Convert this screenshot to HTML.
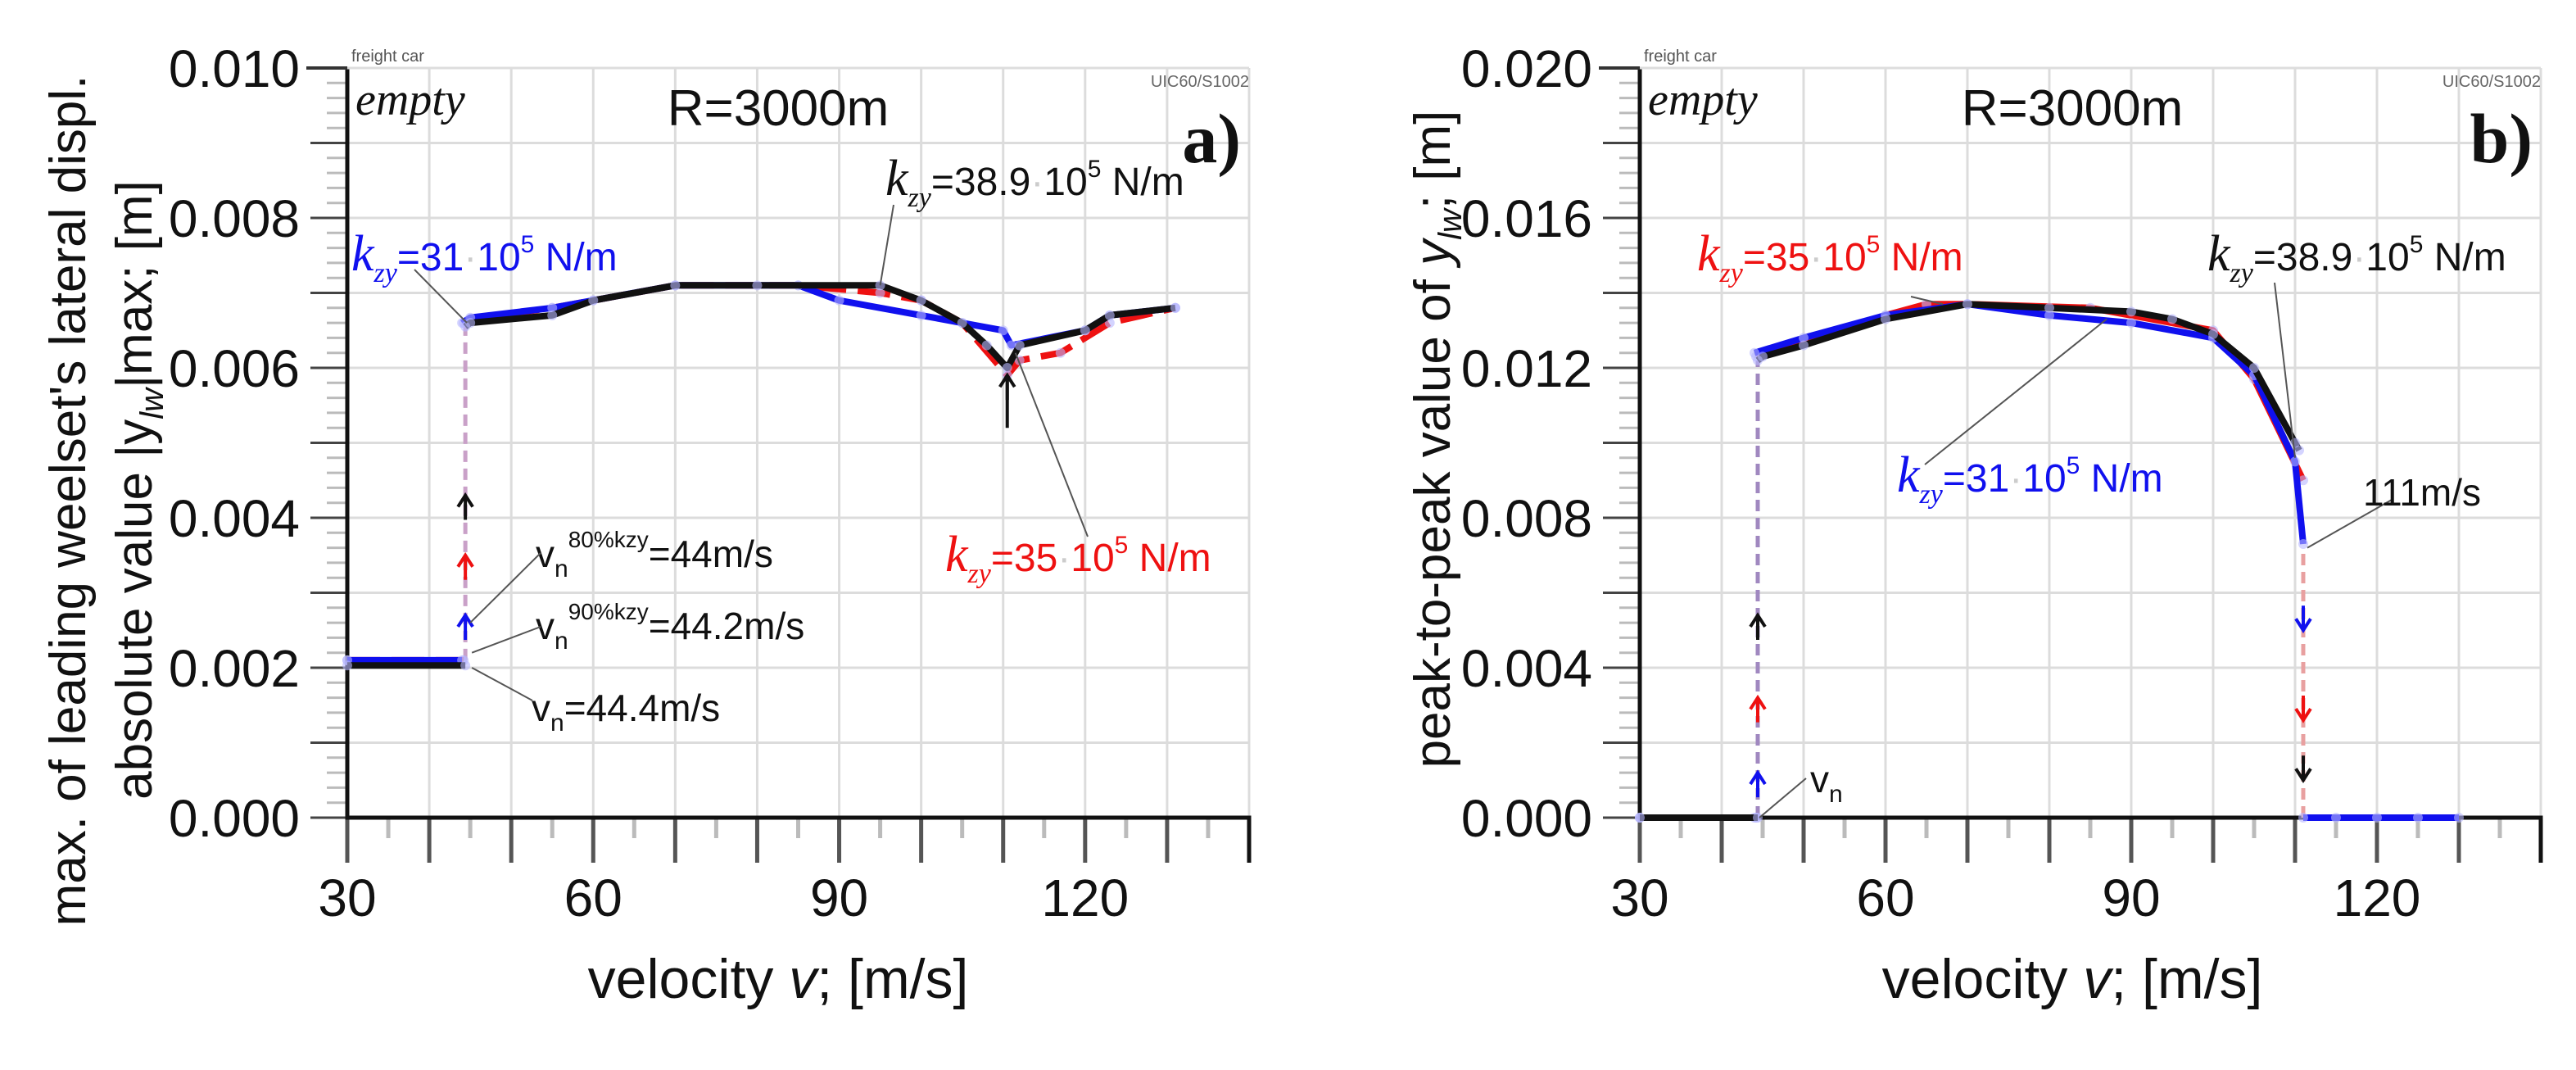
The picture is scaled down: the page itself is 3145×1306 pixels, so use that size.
<!DOCTYPE html>
<html><head><meta charset="utf-8"><style>
html,body{margin:0;padding:0;background:#fff}
svg{display:block}
text{font-family:"Liberation Sans",sans-serif}
.serif{font-family:"Liberation Serif",serif}
</style></head><body>
<svg id="chart" width="3145" height="1306" viewBox="0 0 3145 1306" xmlns="http://www.w3.org/2000/svg">
<g id="pa"></g>
<g id="pb"></g>
</svg>
<script>
// ---- data: panel a (max lateral displacement) ----
const aBlackV = [30, 44.4, 44.4, 45, 55, 60, 70, 80, 95, 100, 105, 108, 110.5, 112, 120, 123, 131];
const aBlackY = [0.00203, 0.00203, 0.00655, 0.0066, 0.0067, 0.0069, 0.0071, 0.0071, 0.0071, 0.0069, 0.0066, 0.0063, 0.0060, 0.0063, 0.0065, 0.0067, 0.0068];
const aRedV = [30, 44.2, 44.2, 45, 55, 60, 70, 85, 95, 100, 105, 110.5, 112, 117, 123, 131];
const aRedY = [0.0021, 0.0021, 0.0066, 0.00665, 0.0068, 0.0069, 0.0071, 0.0071, 0.0070, 0.0069, 0.0066, 0.0059, 0.0061, 0.0062, 0.0066, 0.0068];
const aBlueV = [30, 44, 44, 45, 55, 70, 85, 90, 100, 110, 111, 120, 123, 131];
const aBlueY = [0.0021, 0.0021, 0.0066, 0.00667, 0.0068, 0.0071, 0.0071, 0.0069, 0.0067, 0.0065, 0.0063, 0.0065, 0.0067, 0.0068];
// ---- data: panel b (peak-to-peak) ----
const bBlackV = [30, 44.4, 44.4, 45, 50, 60, 70, 80, 90, 95, 100, 105, 110, 110.5];
const bBlackY = [0, 0, 0.0122, 0.0123, 0.0126, 0.0133, 0.0137, 0.0136, 0.0135, 0.0133, 0.0129, 0.0120, 0.0100, 0.0098];
const bRedV = [30, 44.2, 44.2, 45, 60, 65, 70, 85, 100, 105, 111];
const bRedY = [0, 0, 0.0123, 0.0124, 0.0134, 0.0137, 0.0137, 0.0136, 0.0130, 0.0117, 0.0090];
const bBlueV = [30, 44, 44, 50, 60, 70, 80, 90, 100, 105, 110, 111];
const bBlueY = [0, 0, 0.0124, 0.0128, 0.0134, 0.0137, 0.0134, 0.0132, 0.0128, 0.0118, 0.0095, 0.0073];
const bTailV = [111, 115, 120, 125, 130];
const bTailY = [0, 0, 0, 0, 0];
// ticks
const xTicks = [30, 60, 90, 120];
const aYTicks = [0, 0.002, 0.004, 0.006, 0.008, 0.010];
const aYTickLabels = ["0.000","0.002","0.004","0.006","0.008","0.010"];
const bYTicks = [0, 0.004, 0.008, 0.012, 0.016, 0.020];
const bYTickLabels = ["0.000","0.004","0.008","0.012","0.016","0.020"];

const NS = "http://www.w3.org/2000/svg";
function mk(parent, tag, attrs, txt) {
  const e = document.createElementNS(NS, tag);
  for (const k in attrs) e.setAttribute(k, attrs[k]);
  if (txt !== undefined) e.textContent = txt;
  parent.appendChild(e);
  return e;
}
function axes(L, R, T, B, x0, x1, y1) {
  return {
    x: v => L + (v - x0) / (x1 - x0) * (R - L),
    y: v => B - v / y1 * (B - T)
  };
}
function drawPanel(g, L, R, T, B, yMax, yStep, yTicks, yLabels) {
  const ax = axes(L, R, T, B, 30, 140, yMax);
  for (let v = 40; v <= 140; v += 10) {
    const l = mk(g, "line", {x1: ax.x(v), x2: ax.x(v), y1: T, y2: B, stroke: "#dcdcdc", "stroke-width": 3});
    
    
  }
  for (let v = yStep; v <= yMax + 1e-9; v += yStep) {
    const l = mk(g, "line", {x1: L, x2: R, y1: ax.y(v), y2: ax.y(v), stroke: "#dcdcdc", "stroke-width": 3});
    
    
  }
  for (let i = 0; i <= 50; i++) {
    const v = yMax * i / 50;
    const len = (i % 5 === 0) ? 45 : 25;
    mk(g, "line", {x1: L - len, x2: L, y1: ax.y(v), y2: ax.y(v), stroke: i % 5 === 0 ? "#444" : "#bbb", "stroke-width": 3});
  }
  for (let v = 30; v <= 140; v += 5) {
    const big = v % 10 === 0;
    mk(g, "line", {x1: ax.x(v), x2: ax.x(v), y1: B, y2: B + (big ? 55 : 25), stroke: big ? "#555" : "#bbb", "stroke-width": 5});
  }
  const axl = mk(g, "path", {d: `M${L},${T} V${B} H${R} V${B+55}`, fill: "none", stroke: "#111", "stroke-width": 5});
  
  
  mk(g, "line", {x1: L - 50, x2: R, y1: T, y2: T, stroke: "#ddd", "stroke-width": 3});
  mk(g, "line", {x1: L - 50, x2: L, y1: T, y2: T, stroke: "#333", "stroke-width": 4});
  yTicks.forEach((v, i) => {
    const t = mk(g, "text", {x: L - 58, y: ax.y(v) + 23, "font-size": 64, "text-anchor": "end", fill: "#111"}, yLabels[i]);
    
    
  });
  xTicks.forEach(v => {
    const t = mk(g, "text", {x: ax.x(v), y: 1118, "font-size": 64, "text-anchor": "middle", fill: "#111"}, String(v));
    
    
  });
  return ax;
}
// vertical jumps (equal consecutive x) are not drawn solid: they become a move
function series(g, ax, xs, ys, color, name, dashed, lowWidth) {
  let d = "";
  xs.forEach((v, i) => {
    const jump = i > 0 && xs[i - 1] === v;
    d += (i === 0 || jump ? "M" : "L") + ax.x(v).toFixed(1) + "," + ax.y(ys[i]).toFixed(1) + " ";
  });
  const p = mk(g, "path", {d: d, fill: "none", stroke: color, "stroke-width": 8, "stroke-linejoin": "round"});
  if (dashed) p.setAttribute("stroke-dasharray", "40 14");
  
  
  xs.forEach((v, i) => {
    const c = mk(g, "circle", {cx: ax.x(v), cy: ax.y(ys[i]), r: 6, fill: "#b8b8ff", opacity: 0.6});
    
    
  });
}
function arrowHead(g, x, y, up, color) {
  const s = up ? 1 : -1;
  mk(g, "path", {d: `M${x-9},${y+14*s} L${x},${y} L${x+9},${y+14*s} M${x},${y} V${y+30*s}`, fill: "none", stroke: color, "stroke-width": 4});
}
function leader(g, x1, y1, x2, y2) {
  mk(g, "line", {x1: x1, y1: y1, x2: x2, y2: y2, stroke: "#555", "stroke-width": 2});
}
function kzy(g, x, y, color, val, name) {
  const t = mk(g, "text", {x: x, y: y, "font-size": 48, fill: color});
  
  
  mk(t, "tspan", {"font-family": "Liberation Serif, serif", "font-style": "italic", "font-size": 62}, "k");
  mk(t, "tspan", {"font-family": "Liberation Serif, serif", "font-style": "italic", "font-size": 34, dy: 14}, "zy");
  mk(t, "tspan", {dy: -14}, "=" + val);
  mk(t, "tspan", {fill: "#ccc"}, "·");
  mk(t, "tspan", {}, "10");
  mk(t, "tspan", {"font-size": 30, dy: -22}, "5");
  mk(t, "tspan", {dy: 22}, " N/m");
}
function common(g, L, R, lbl, cx) {
  let t = mk(g, "text", {x: L + 5, y: 75, "font-size": 20, fill: "#555"}, "freight car");
   
  t = mk(g, "text", {x: R, y: 106, "font-size": 20, "text-anchor": "end", fill: "#666"}, "UIC60/S1002");
   
  t = mk(g, "text", {x: L + 10, y: 140, "font-size": 56, "font-style": "italic", "class": "serif", fill: "#111"}, "empty");
   
  t = mk(g, "text", {x: cx, y: 153, "font-size": 62, "text-anchor": "middle", fill: "#111"}, "R=3000m");
   
  t = mk(g, "text", {x: R - 10, y: 198, "font-size": 86, "font-weight": "bold", "text-anchor": "end", "class": "serif", fill: "#111"}, lbl);
   
  t = mk(g, "text", {x: cx, y: 1218, "font-size": 68, "text-anchor": "middle", fill: "#111"});
   
  mk(t, "tspan", {}, "velocity ");
  mk(t, "tspan", {"font-style": "italic"}, "v");
  mk(t, "tspan", {}, "; [m/s]");
}

// ---------- Panel A ----------
const ga = document.getElementById("pa");
const A = drawPanel(ga, 424, 1525, 83, 998, 0.010, 0.001, aYTicks, aYTickLabels);
common(ga, 424, 1525, "a)", 950);
let ta = mk(ga, "text", {transform: "translate(104,611) rotate(-90)", "font-size": 62, "text-anchor": "middle", fill: "#111"}, "max. of leading weelset's lateral displ.");
 
ta = mk(ga, "text", {transform: "translate(185,598) rotate(-90)", "font-size": 62, "text-anchor": "middle", fill: "#111"});
 
mk(ta, "tspan", {}, "absolute value |y");
mk(ta, "tspan", {"font-size": 40, dy: 14, "font-style": "italic"}, "lw");
mk(ta, "tspan", {dy: -14}, "|max; [m]");
mk(ga, "line", {x1: A.x(44.4), x2: A.x(44.4), y1: A.y(0.0021), y2: A.y(0.0066), stroke: "#c9a0c8", "stroke-width": 5, "stroke-dasharray": "14 8"});
series(ga, A, aRedV, aRedY, "#ee1111", "series-kzy35", true);
series(ga, A, aBlueV, aBlueY, "#1010ee", "series-kzy31", false);
series(ga, A, aBlackV, aBlackY, "#111", "series-kzy38-9", false);
arrowHead(ga, A.x(44.4), A.y(0.0027), true, "#1010ee");
arrowHead(ga, A.x(44.4), A.y(0.0035), true, "#ee1111");
arrowHead(ga, A.x(44.4), A.y(0.0043), true, "#111");
arrowHead(ga, A.x(110.5), A.y(0.0059), true, "#111");
mk(ga, "line", {x1: A.x(110.5), x2: A.x(110.5), y1: A.y(0.0059), y2: A.y(0.0052), stroke: "#111", "stroke-width": 4});
kzy(ga, 429, 330, "#1010ee", "31", "label-kzy31");
kzy(ga, 1081, 238, "#111", "38.9", "label-kzy38-9");
kzy(ga, 1154, 697, "#ee1111", "35", "label-kzy35");
leader(ga, 506, 329, A.x(44.6), A.y(0.0066));
leader(ga, 1091, 250, A.x(95), A.y(0.0071));
leader(ga, 1328, 655, A.x(111.5), A.y(0.0062));
function vnLabel(g, x, y, sup, val, name) {
  const t = mk(g, "text", {x: x, y: y, "font-size": 46, fill: "#111"});
   
  mk(t, "tspan", {}, "v");
  mk(t, "tspan", {"font-size": 30, dy: 12}, "n");
  if (sup) { mk(t, "tspan", {"font-size": 28, dy: -36}, sup); mk(t, "tspan", {dy: 24}, val); }
  else mk(t, "tspan", {dy: -12}, val);
}
vnLabel(ga, 654, 692, "80%kzy", "=44m/s", "label-vn-80");
vnLabel(ga, 654, 780, "90%kzy", "=44.2m/s", "label-vn-90");
vnLabel(ga, 649, 880, null, "=44.4m/s", "label-vn");
leader(ga, 660, 675, A.x(44.4) + 6, A.y(0.0026));
leader(ga, 660, 765, A.x(44.4) + 8, A.y(0.0022));
leader(ga, 650, 855, A.x(44.4) + 8, A.y(0.0020));

// ---------- Panel B ----------
const gb = document.getElementById("pb");
const Bx = drawPanel(gb, 2002, 3102, 83, 998, 0.020, 0.002, bYTicks, bYTickLabels);
common(gb, 2002, 3102, "b)", 2530);
let tb = mk(gb, "text", {transform: "translate(1770,536) rotate(-90)", "font-size": 62, "text-anchor": "middle", fill: "#111"});
 
mk(tb, "tspan", {}, "peak-to-peak value of ");
mk(tb, "tspan", {"font-style": "italic"}, "y");
mk(tb, "tspan", {"font-size": 40, dy: 14, "font-style": "italic"}, "lw");
mk(tb, "tspan", {dy: -14}, "; [m]");
mk(gb, "line", {x1: Bx.x(44.4), x2: Bx.x(44.4), y1: Bx.y(0), y2: Bx.y(0.0122), stroke: "#a088c0", "stroke-width": 5, "stroke-dasharray": "14 8"});
mk(gb, "line", {x1: Bx.x(111), x2: Bx.x(111), y1: Bx.y(0), y2: Bx.y(0.0072), stroke: "#e8a0a0", "stroke-width": 5, "stroke-dasharray": "14 8"});
series(gb, Bx, bRedV, bRedY, "#ee1111", "series-kzy35", false);
series(gb, Bx, bBlueV, bBlueY, "#1010ee", "series-kzy31", false);
series(gb, Bx, bBlackV, bBlackY, "#111", "series-kzy38-9", false);
series(gb, Bx, bTailV, bTailY, "#1010ee", "series-zero-tail", false);
arrowHead(gb, Bx.x(44.4), Bx.y(0.0012), true, "#1010ee");
arrowHead(gb, Bx.x(44.4), Bx.y(0.0032), true, "#ee1111");
arrowHead(gb, Bx.x(44.4), Bx.y(0.0054), true, "#111");
arrowHead(gb, Bx.x(111), Bx.y(0.0050), false, "#1010ee");
arrowHead(gb, Bx.x(111), Bx.y(0.0026), false, "#ee1111");
arrowHead(gb, Bx.x(111), Bx.y(0.0010), false, "#111");
kzy(gb, 2072, 330, "#ee1111", "35", "label-kzy35");
kzy(gb, 2695, 330, "#111", "38.9", "label-kzy38-9");
kzy(gb, 2316, 600, "#1010ee", "31", "label-kzy31");
leader(gb, 2333, 362, Bx.x(67), Bx.y(0.0137));
leader(gb, 2350, 567, Bx.x(87), Bx.y(0.0133));
leader(gb, 2777, 345, Bx.x(110), Bx.y(0.0096));
leader(gb, 2920, 610, Bx.x(111.5), Bx.y(0.0072));
let t111 = mk(gb, "text", {x: 2885, y: 617, "font-size": 46, fill: "#111"}, "111m/s");
 
vnLabel(gb, 2210, 967, null, "", "label-vn");
leader(gb, 2205, 950, Bx.x(44.6), Bx.y(0));
</script>
</body></html>
